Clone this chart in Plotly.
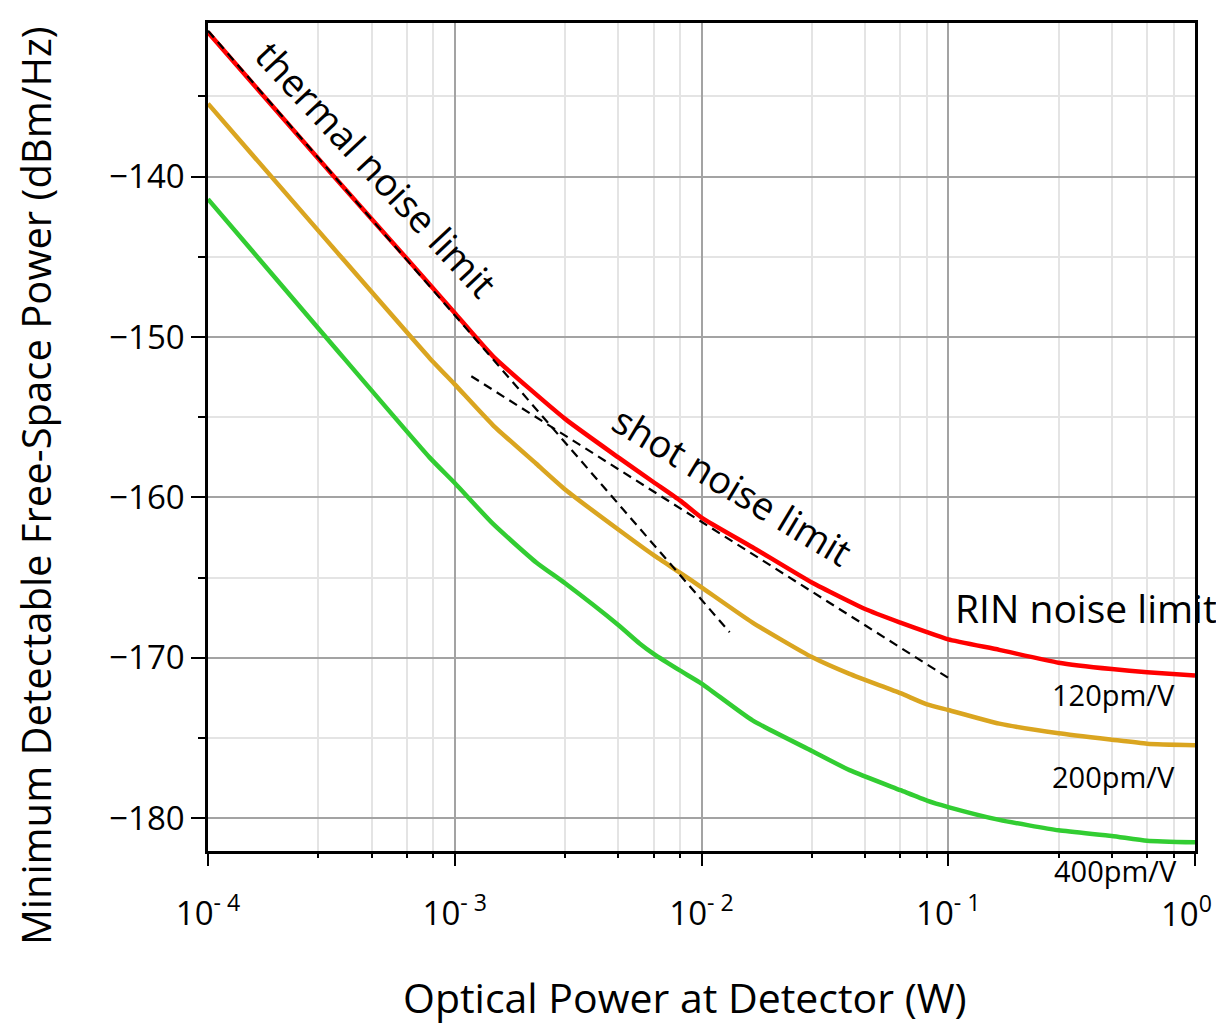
import plotly.graph_objects as go

# ---- data ----
power_red = [1e-4, 3.16e-4, 7.9e-4, 1e-3, 1.43e-3, 2.8e-3, 4.6e-3, 6.4e-3, 8.2e-3,
             1e-2, 1.61e-2, 2.8e-2, 4.6e-2, 6.4e-2, 8.2e-2, 0.1, 0.161, 0.28, 0.46, 0.64, 1.0]
red_120 = [-131.0, -139.8, -146.7, -148.5, -151.2, -155.1, -157.5, -159.05, -160.2,
           -161.25, -163.1, -165.3, -166.95, -167.8, -168.4, -168.85, -169.5, -170.3, -170.7, -170.9, -171.1]

power_orange = [1e-4, 3.16e-4, 7.9e-4, 1e-3, 1.43e-3, 2.14e-3, 2.8e-3, 4.6e-3, 6.4e-3, 8.2e-3,
                1e-2, 1.61e-2, 2.8e-2, 3.98e-2, 6.4e-2, 8.2e-2, 0.1, 0.161, 0.28, 0.46, 0.64, 1.0]
orange_200 = [-135.45, -144.3, -151.3, -152.95, -155.5, -157.9, -159.5, -162.0, -163.6, -164.7,
              -165.6, -167.8, -169.95, -171.0, -172.2, -172.9, -173.25, -174.1, -174.7, -175.1, -175.35, -175.45]

power_green = [1e-4, 3.16e-4, 7.9e-4, 1e-3, 1.43e-3, 2.14e-3, 2.8e-3, 4.6e-3, 5.61e-3, 6.4e-3, 8.2e-3,
               1e-2, 1.61e-2, 2.8e-2, 3.98e-2, 6.4e-2, 8.2e-2, 0.1, 0.161, 0.28, 0.46, 0.64, 1.0]
green_400 = [-141.4, -150.4, -157.5, -159.1, -161.65, -164.05, -165.35, -167.95, -169.1, -169.75, -170.8,
             -171.6, -173.9, -175.8, -177.0, -178.25, -178.9, -179.3, -180.1, -180.75, -181.1, -181.4, -181.5]

thermal_x = [1e-4, 0.0130]
thermal_y = [-130.9, -168.4]
shot_x = [1.167e-3, 0.1013]
shot_y = [-152.44, -171.30]

x_major = [1e-4, 1e-3, 1e-2, 1e-1, 1e0]
x_major_text = ["10<sup>- 4</sup>", "10<sup>- 3</sup>", "10<sup>- 2</sup>", "10<sup>- 1</sup>", "10<sup>0</sup>"]
x_minor_mult = [2.8, 4.6, 6.4, 8.2]
x_decades = [1e-4, 1e-3, 1e-2, 1e-1]
y_major = [-180, -170, -160, -150, -140]
y_major_text = ["\u2212180", "\u2212170", "\u2212160", "\u2212150", "\u2212140"]
y_minor = [-175, -165, -155, -145, -135]

x_minor = [m * d for d in x_decades for m in x_minor_mult]

FONT = "Open Sans"
MAJOR_GRID = "#a3a3a3"
MINOR_GRID = "#e4e4e4"
DASH = "9px,6px"
SMOOTH = 0.5

fig = go.Figure()
fig.add_trace(go.Scatter(x=power_red, y=red_120, mode="lines",
                         line=dict(color="#ff0000", width=4.5, shape="spline", smoothing=SMOOTH), name="120pm/V"))
fig.add_trace(go.Scatter(x=power_orange, y=orange_200, mode="lines",
                         line=dict(color="#daa520", width=4.5, shape="spline", smoothing=SMOOTH), name="200pm/V"))
fig.add_trace(go.Scatter(x=power_green, y=green_400, mode="lines",
                         line=dict(color="#32cd32", width=4.5, shape="spline", smoothing=SMOOTH), name="400pm/V"))
fig.add_trace(go.Scatter(x=thermal_x, y=thermal_y, mode="lines",
                         line=dict(color="black", width=2.2, dash=DASH), name="thermal"))
fig.add_trace(go.Scatter(x=shot_x, y=shot_y, mode="lines",
                         line=dict(color="black", width=2.2, dash=DASH), name="shot"))

# the page body has an 8px margin on every side: the figure is sized to fit inside it
fig.update_layout(
    width=1208, height=1016,
    margin=dict(l=200, r=21, t=13, b=173),
    paper_bgcolor="white", plot_bgcolor="white",
    showlegend=False,
    font=dict(family=FONT, color="black"),
)
# the last major label (at the right edge) is drawn as a right-anchored note so it stays inside the page
fig.update_xaxes(
    type="log", range=[-4, 0],
    tickmode="array", tickvals=x_major, ticktext=x_major_text[:-1] + [""],
    tickfont=dict(size=33, family=FONT, color="black"),
    ticks="outside", ticklen=12, tickwidth=2, tickcolor="black",
    ticklabelstandoff=20,
    showline=True, linecolor="black", linewidth=2.5, mirror=True,
    showgrid=True, gridcolor=MAJOR_GRID, gridwidth=2,
    minor=dict(tickmode="array", tickvals=x_minor, ticks="outside", ticklen=4, tickwidth=2,
               tickcolor="black", showgrid=True, gridcolor=MINOR_GRID, gridwidth=2),
    zeroline=False,
)
fig.update_yaxes(
    range=[-182.04, -130.42],
    tickmode="array", tickvals=y_major, ticktext=y_major_text,
    tickfont=dict(size=33, family=FONT, color="black"),
    ticks="outside", ticklen=14, tickwidth=2, tickcolor="black",
    ticklabelstandoff=0,
    showline=True, linecolor="black", linewidth=2.5, mirror=True,
    showgrid=True, gridcolor=MAJOR_GRID, gridwidth=2,
    minor=dict(tickmode="array", tickvals=y_minor, ticks="outside", ticklen=7, tickwidth=2,
               tickcolor="black", showgrid=True, gridcolor=MINOR_GRID, gridwidth=2),
    zeroline=False,
)

annotations = [
    dict(text="thermal noise limit", x=-3.314, y=-139.5, xref="x", yref="y", textangle=47, size=38),
    dict(text="shot noise limit", x=-1.874, y=-159.2, xref="x", yref="y", textangle=31, size=38),
    dict(text="RIN noise limit", x=-0.440, y=-166.87, xref="x", yref="y", size=39),
    dict(text="120pm/V", x=-0.330, y=-172.28, xref="x", yref="y", size=29),
    dict(text="200pm/V", x=-0.330, y=-177.38, xref="x", yref="y", size=29),
    dict(text="400pm/V", x=0.919, y=-0.0241, xref="paper", yref="paper", size=29),
    dict(text="Minimum Detectable Free-Space Power (dBm/Hz)", x=-0.1740, y=0.441,
         xref="paper", yref="paper", textangle=-90, size=40),
    dict(text="Optical Power at Detector (W)", x=0.4833, y=-0.1759, xref="paper", yref="paper", size=41),
]
ann_list = []
for a in annotations:
    size = a.pop("size")
    a.update(showarrow=False, xanchor="center", yanchor="middle",
             font=dict(family=FONT, color="black", size=size))
    ann_list.append(a)
ann_list.append(dict(text=x_major_text[-1], x=1.0195, y=-0.0735, xref="paper", yref="paper",
                     xanchor="right", yanchor="middle", showarrow=False,
                     font=dict(family=FONT, color="black", size=33)))
fig.update_layout(annotations=ann_list)

fig.write_html("out.html")
